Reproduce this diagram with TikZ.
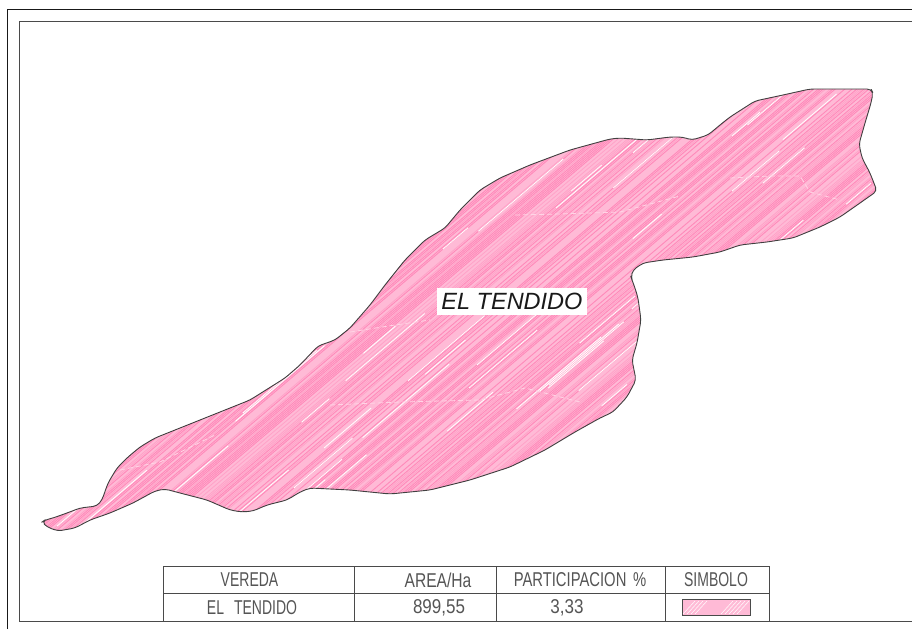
\documentclass[tikz,border=0pt]{standalone}
\usepackage{fontspec}
\setmainfont{Liberation Sans}
\newfontfamily\cadfont[FakeStretch=0.70]{Liberation Sans}
\newfontfamily\cadarea[FakeStretch=0.78]{Liberation Sans}
\newfontfamily\cadpart[FakeStretch=0.74]{Liberation Sans}
\newfontfamily\cadnum[FakeStretch=0.85]{Liberation Sans}
\definecolor{pinkbase}{HTML}{FFBAD6}
\definecolor{pinkdark}{HTML}{FF8ABA}
\definecolor{pinkmid}{HTML}{FFA2C8}
\definecolor{pinkpale}{HTML}{FFD4E5}
\definecolor{cadline}{HTML}{4A4A4A}
\definecolor{cadtext}{HTML}{555555}
\tikzset{
  x=1pt,y=-1pt,
  frameline/.style={line width=0.9pt,draw=cadline},
  outerline/.style={line width=0.9pt,draw=black!90},
  tableline/.style={line width=0.8pt,draw=cadline},
  cadlabel/.style={font=\fontsize{20}{20}\selectfont,text=cadtext,inner sep=0pt},
  faint/.style={line width=0.8pt,draw=pinkpale,dashed,dash pattern=on 5pt off 3pt},
}
\def\regionpath{(42,522) -- (45,520) -- (53,518) -- (67,513) -- (80,508) -- (97,506) -- (102,500) -- (108,483) -- (117,468) -- (128,457) -- (140,447) -- (155,438) -- (170,432) -- (200,420) -- (250,400) -- (285,378) -- (300,365) -- (318,346) -- (335,340) -- (350,328) -- (370,305) -- (385,285) -- (405,260) -- (425,240) -- (445,228) -- (460,210) -- (480,190) -- (500,178) -- (530,165) -- (570,150) -- (610,139) -- (620,138) -- (647,140) -- (670,137) -- (682,137) -- (692,140) -- (708,135) -- (720,125) -- (730,117) -- (755,101) -- (783,95) -- (810,89) -- (840,89) -- (871,89) -- (873,93) -- (871,103) -- (865,123) -- (859,144) -- (862,158) -- (870,173) -- (877,191) -- (860,203) -- (840,217) -- (820,227) -- (793,238) -- (767,242) -- (740,245) -- (720,252) -- (693,257) -- (663,260) -- (643,263) -- (633,270) -- (631,277) -- (632,280) -- (635,288) -- (638,298) -- (641,320) -- (637,343) -- (632,360) -- (636,380) -- (627,397) -- (613,412) -- (600,418) -- (575,432) -- (545,450) -- (510,467) -- (470,480) -- (430,490) -- (390,494) -- (350,490) -- (310,488) -- (300,492) -- (287,500) -- (267,505) -- (253,511) -- (242,512) -- (230,510) -- (207,500) -- (180,493) -- (165,489) -- (155,491) -- (133,503) -- (110,513) -- (90,520) -- (75,528) -- (58,531) -- (47,527) -- cycle}
\begin{document}
\begin{tikzpicture}
\useasboundingbox (0,0) rectangle (912,629);
\fill[white] (0,0) rectangle (912,629);
% frames
\draw[outerline] (7.5,629) -- (7.5,9.5) -- (912,9.5);
\draw[frameline] (912,21) -- (19,21) -- (19,621.5) -- (912,621.5);
% region
\fill[pinkbase,rounded corners=4pt] \regionpath;
\begin{scope}
  \clip[rounded corners=4pt] \regionpath;
  \pgfmathsetseed{4242}
  \foreach \c in {40,42.4,...,1660}{
    \pgfmathtruncatemacro{\rr}{random(0,99)}
    \ifnum\rr<40
      \draw[pinkdark,line width=0.9pt] (\c,0) -- ({\c-753},640);
    \else
      \ifnum\rr<70
        \draw[pinkmid,line width=0.8pt] (\c,0) -- ({\c-753},640);
      \fi
    \fi
    \pgfmathtruncatemacro{\ss}{random(0,99)}
    \ifnum\ss<40
      \pgfmathsetmacro{\tstart}{rnd}
      \pgfmathsetmacro{\tlen}{0.03+0.09*rnd}
      \draw[white,line width=0.8pt] ({\c-753*\tstart},{640*\tstart}) -- ({\c-753*(\tstart+\tlen)},{640*(\tstart+\tlen)});
    \fi
  }
  \draw[faint] (515,215) -- (560,214) -- (620,212) -- (680,196);
  \draw[faint] (730,178) -- (770,176) -- (800,176) -- (810,192) -- (840,200);
  \draw[faint] (330,405) -- (400,402) -- (480,400) -- (525,388) -- (580,402);
  \draw[faint] (120,470) -- (160,462) -- (215,435);
  \draw[faint] (350,332) -- (395,325) -- (430,320);
\end{scope}
\draw[line width=0.9pt,draw=black!75,line join=round,rounded corners=4pt] \regionpath;
% name
\node[fill=white,inner sep=0pt,minimum width=150pt,minimum height=27pt,font=\itshape\fontsize{23.5}{24}\selectfont,text=black!90] (name) at (512,301.5) {EL TENDIDO};
% table
\draw[tableline] (163,621.5) -- (163,566) -- (769,566) -- (769,621.5);
\draw[tableline] (163,593) -- (769,593);
\draw[tableline] (354,566) -- (354,621.5);
\draw[tableline] (496,566) -- (496,621.5);
\draw[tableline] (665,566) -- (665,621.5);
\node[cadlabel] (h1) at (249.5,580) {\cadfont VEREDA};
\node[cadlabel] (h2) at (438,580) {\cadarea AREA/Ha};
\node[cadlabel] (h3) at (580,580) {\cadpart PARTICIPACION\,\,\%};
\node[cadlabel] (h4) at (716,580) {\cadfont SIMBOLO};
\node[cadlabel] (c1) at (252,608) {\cadfont EL\,\,\,TENDIDO};
\node[cadlabel] (c2) at (439,608) {\cadnum 899,55};
\node[cadlabel] (c3) at (567,608) {\cadnum 3,33};
\node[draw=cadline,line width=0.8pt,fill=pinkbase,minimum width=68pt,minimum height=16pt,inner sep=0pt] (sym) at (716,607.5) {};
\begin{scope}
  \clip (682,599.5) rectangle (750,615.5);
  \foreach \q in {695,699,703,707,733,737,741,745,749}{
    \draw[white,line width=0.5pt] (\q,601) -- ({\q-12},614);
  }
\end{scope}
\end{tikzpicture}
\end{document}
